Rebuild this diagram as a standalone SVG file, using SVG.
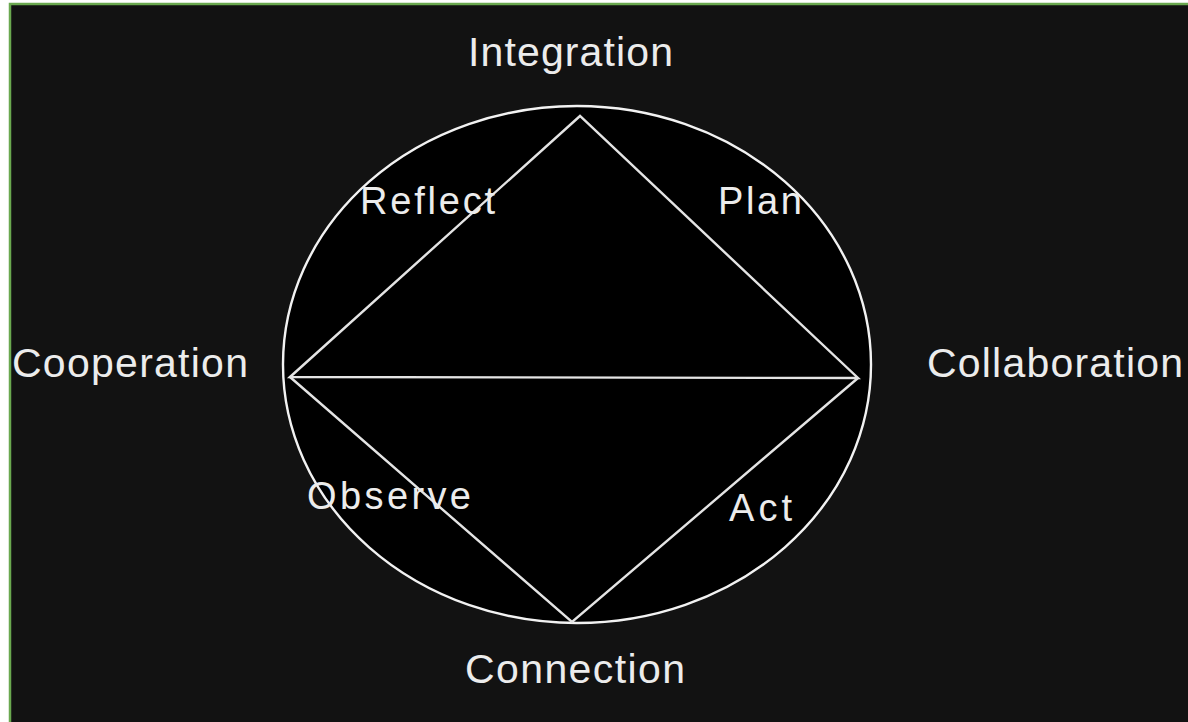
<svg xmlns="http://www.w3.org/2000/svg" width="1188" height="722" viewBox="0 0 1188 722">
<style>
.lbl{font-family:"Liberation Sans",Arial,sans-serif;fill:#ececec;text-anchor:start}
.outer{font-size:41px}
.inner{font-size:38px}
.edge{fill:none;stroke:#e4e4e4;stroke-width:2.4;stroke-linejoin:miter}
</style>
<rect x="0" y="0" width="1188" height="722" fill="#ffffff"/>
<rect x="10" y="4" width="1200" height="740" fill="#121212" stroke="#6aa84f" stroke-width="2.5"/>
<g id="circle">
<ellipse cx="577" cy="364.5" rx="294" ry="258.5" fill="#000000" stroke="#f2f2f2" stroke-width="2.4"/>
</g>
<g id="connectors">
<path class="edge" d="M290,377 L580,116 L858,378 Z"/>
<path class="edge" d="M290,377 L572,622 L858,378"/>
</g>
<g id="integration"><text class="lbl outer" x="468" y="66" textLength="205" lengthAdjust="spacing">Integration</text></g>
<g id="cooperation"><text class="lbl outer" x="12" y="377" textLength="236" lengthAdjust="spacing">Cooperation</text></g>
<g id="collaboration"><text class="lbl outer" x="927" y="377" textLength="256" lengthAdjust="spacing">Collaboration</text></g>
<g id="connection"><text class="lbl outer" x="465" y="683" textLength="220" lengthAdjust="spacing">Connection</text></g>
<g id="reflect"><text class="lbl inner" x="360" y="214" textLength="135" lengthAdjust="spacing">Reflect</text></g>
<g id="plan"><text class="lbl inner" x="718" y="214" textLength="84" lengthAdjust="spacing">Plan</text></g>
<g id="observe"><text class="lbl inner" x="307" y="509" textLength="164" lengthAdjust="spacing">Observe</text></g>
<g id="act"><text class="lbl inner" x="729" y="521" textLength="63" lengthAdjust="spacing">Act</text></g>
</svg>
